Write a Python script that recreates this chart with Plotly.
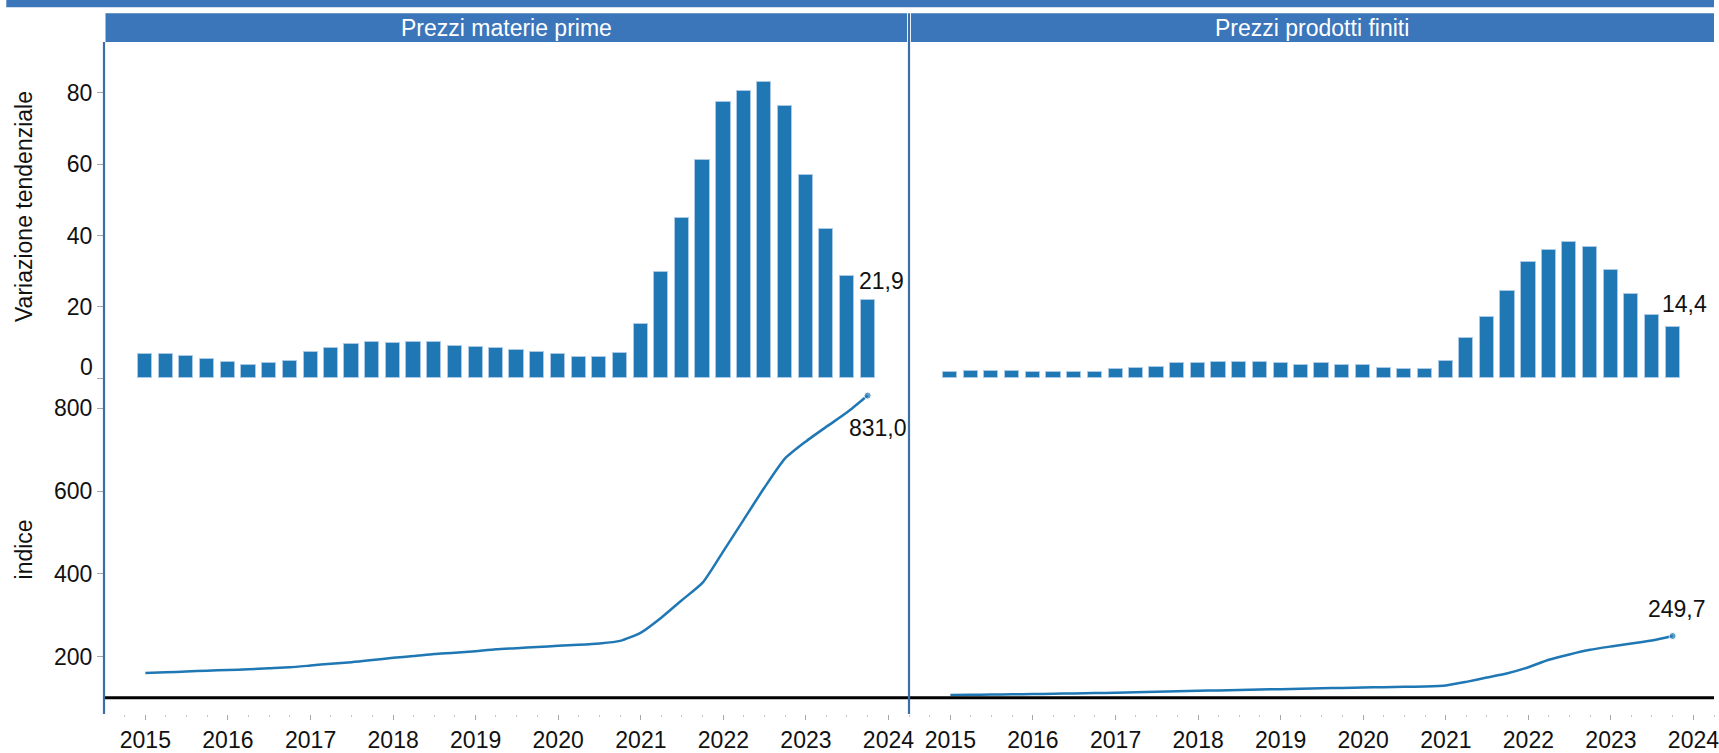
import pandas as pd
import plotly.graph_objects as go

# Quarterly periods, 2015Q1 - 2023Q4 (plotted at quarter start)
trimestri = pd.period_range("2015Q1", "2023Q4", freq="Q").to_timestamp()

pannelli = ["Prezzi materie prime", "Prezzi prodotti finiti"]

# Year-on-year change (%)
var_materie = [6.6, 6.6, 6.1, 5.4, 4.6, 3.7, 4.2, 4.9, 7.4, 8.3, 9.5, 10.2,
               9.8, 10.2, 10.2, 9.0, 8.6, 8.3, 7.8, 7.4, 6.6, 5.8, 5.8, 7.1,
               15.1, 29.8, 44.8, 61.1, 77.4, 80.6, 83.1, 76.2, 57.0, 41.9, 28.5, 21.9]
var_prodotti = [1.7, 2.0, 2.0, 2.0, 1.7, 1.7, 1.7, 1.7, 2.4, 2.9, 3.2, 4.1,
                4.1, 4.5, 4.5, 4.5, 4.1, 3.7, 4.1, 3.7, 3.7, 2.9, 2.4, 2.4,
                4.8, 11.1, 17.1, 24.4, 32.6, 35.8, 38.2, 36.9, 30.2, 23.7, 17.6, 14.4]

# Price index levels
indice_materie = [160.2, 161.9, 163.8, 165.8, 167.4, 169.0, 171.4, 173.8, 178.2, 182.6,
                  186.2, 191.4, 197.0, 201.0, 205.8, 209.0, 213.0, 217.4, 220.2, 223.0,
                  225.8, 228.2, 231.4, 237.8, 257.8, 293.8, 336.2, 378.6, 455.0, 531.0,
                  608.0, 679.0, 720.2, 755.4, 789.8, 831.0]
indice_prodotti = [106.7, 107.3, 107.9, 108.5, 109.1, 109.9, 110.7, 111.5, 112.3, 113.5,
                   114.7, 115.9, 117.1, 118.1, 119.1, 120.1, 121.1, 122.1, 123.1, 124.1,
                   125.1, 125.9, 126.7, 127.5, 129.9, 138.7, 149.1, 159.5, 174.0, 192.3,
                   205.1, 216.3, 224.3, 231.5, 238.7, 249.7]

tick_var = [0, 20, 40, 60, 80]
tick_indice = [200, 400, 600, 800]

BLU = "#1f77b4"
STRIP = "#3b75ba"
LINEA_ASSE = "#3a6ea5"
TESTO = "#111111"
FONT = "Liberation Sans, Arial, sans-serif"
FS = 23

W, H = 1719, 753
ML, MR, MT, MB = 104, 0, 42, 34
PW, PH = W - ML - MR, H - MT - MB


def px(x):
    return (x - ML) / PW


def py(y):
    return (H - MB - y) / PH


def fmt(v):
    return f"{v:.1f}".replace(".", ",")


bar_w = 63 * 24 * 3600 * 1000  # bar width in ms

fig = go.Figure()

for var, xa, ya in [(var_materie, "x3", "y3"), (var_prodotti, "x4", "y4")]:
    fig.add_trace(go.Bar(
        x=trimestri, y=var, xaxis=xa, yaxis=ya, width=bar_w,
        marker=dict(color=BLU, line=dict(color="#a9c9e6", width=1)),
        showlegend=False, hoverinfo="x+y",
    ))

for ind, xa, ya in [(indice_materie, "x", "y"), (indice_prodotti, "x2", "y2")]:
    n = len(ind)
    fig.add_trace(go.Scatter(
        x=trimestri, y=ind, xaxis=xa, yaxis=ya, mode="lines+markers",
        line=dict(color=BLU, width=2.5, shape="spline", smoothing=0.6),
        marker=dict(color=BLU, size=[0] * (n - 1) + [7]),
        showlegend=False,
    ))

x_range = ["2014-07-02", "2024-04-01"]
x_common = dict(
    type="date", range=x_range, tickformat="%Y", dtick="M12", tick0="2015-01-01",
    ticks="outside", ticklen=5, tickwidth=1, tickcolor="#a8a8a8",
    minor=dict(dtick="M3", ticks="outside", ticklen=2, tickcolor="#c4c4c4", showgrid=False),
    showgrid=False, zeroline=False, showline=False, ticklabeloverflow="allow",
    tickfont=dict(family=FONT, size=FS, color=TESTO),
)
y_bottom = dict(range=[61, 873.5], showgrid=False, zeroline=False, showline=False)
y_top = dict(range=[0, 94.3], showgrid=False, zeroline=False, showline=False)

fig.update_layout(
    width=W, height=H,
    margin=dict(l=ML, r=MR, t=MT, b=MB),
    paper_bgcolor="white", plot_bgcolor="white",
    font=dict(family=FONT, size=FS, color=TESTO),
    bargap=0,
    xaxis=dict(domain=[0, 0.5], anchor="y", **x_common),
    xaxis2=dict(domain=[0.5, 1], anchor="y2", **x_common),
    xaxis3=dict(domain=[0, 0.5], anchor="y3", matches="x", visible=False),
    xaxis4=dict(domain=[0.5, 1], anchor="y4", matches="x2", visible=False),
    yaxis=dict(domain=[0, 0.5], anchor="x", tickvals=tick_indice,
               ticks="outside", ticklen=6, tickcolor="#a8a8a8",
               tickfont=dict(family=FONT, size=FS, color=TESTO), **y_bottom),
    yaxis2=dict(domain=[0, 0.5], anchor="x2", showticklabels=False, ticks="", **y_bottom),
    yaxis3=dict(domain=[0.5, 1], anchor="x3", tickvals=tick_var,
                ticktext=[""] + [str(v) for v in tick_var[1:]],
                ticks="outside", ticklen=6, tickcolor="#a8a8a8",
                tickfont=dict(family=FONT, size=FS, color=TESTO), **y_top),
    yaxis4=dict(domain=[0.5, 1], anchor="x4", showticklabels=False, ticks="", **y_top),
)

shapes = [
    # title band at the very top
    dict(type="rect", xref="paper", yref="paper", x0=px(6), x1=1.0, y0=py(7), y1=py(-10),
         fillcolor=STRIP, line=dict(width=0), layer="above"),
    # panel header strips
    dict(type="rect", xref="paper", yref="paper", x0=px(105.5), x1=px(909.5), y0=1.0, y1=py(13),
         fillcolor=STRIP, line=dict(width=0), layer="above"),
    dict(type="rect", xref="paper", yref="paper", x0=px(913.5), x1=1.0, y0=1.0, y1=py(13),
         fillcolor=STRIP, line=dict(width=0), layer="above"),
    # reference line at index 100
    dict(type="line", xref="paper", yref="y", x0=0, x1=1, y0=100, y1=100,
         line=dict(color="black", width=3), layer="above"),
    # panel frame lines
    dict(type="line", xref="paper", yref="paper", x0=0, x1=0, y0=0, y1=1.0,
         line=dict(color=LINEA_ASSE, width=2.2), layer="above"),
    dict(type="line", xref="paper", yref="paper", x0=0.5, x1=0.5, y0=0, y1=py(13),
         line=dict(color=LINEA_ASSE, width=2.2), layer="above"),
]
fig.update_layout(shapes=shapes)

ann = []
for i, titolo in enumerate(pannelli):
    cx = (px(105.5) + px(909.5)) / 2 if i == 0 else (px(913.5) + 1.0) / 2
    ann.append(dict(text=titolo, xref="paper", yref="paper", x=cx, y=(1.0 + py(13)) / 2,
                    xanchor="center", yanchor="middle", showarrow=False,
                    font=dict(family=FONT, size=FS, color="white")))

# axis titles
ann.append(dict(text="Variazione tendenziale", xref="paper", yref="paper",
                x=px(24), y=py(208), textangle=-90, xanchor="center", yanchor="middle",
                showarrow=False, font=dict(family=FONT, size=FS, color=TESTO)))
ann.append(dict(text="indice", xref="paper", yref="paper",
                x=px(24), y=py(553), textangle=-90, xanchor="center", yanchor="middle",
                showarrow=False, font=dict(family=FONT, size=FS, color=TESTO)))
# zero label of the change axis, lifted above its tick
ann.append(dict(text="0", xref="paper", yref="y3", x=0, y=0, xanchor="right",
                yanchor="middle", xshift=-9, yshift=11, showarrow=False,
                font=dict(family=FONT, size=FS, color=TESTO)))

ultimo = trimestri[-1]
ann.append(dict(text=fmt(var_materie[-1]), xref="x3", yref="y3", x=ultimo, y=var_materie[-1],
                xanchor="left", yanchor="middle", xshift=-11, yshift=19, showarrow=False))
ann.append(dict(text=fmt(var_prodotti[-1]), xref="x4", yref="y4", x=ultimo, y=var_prodotti[-1],
                xanchor="left", yanchor="middle", xshift=-13, yshift=23, showarrow=False))
ann.append(dict(text=fmt(indice_materie[-1]), xref="x", yref="y", x=ultimo, y=indice_materie[-1],
                xanchor="center", yanchor="middle", xshift=10, yshift=-32, showarrow=False))
ann.append(dict(text=fmt(indice_prodotti[-1]), xref="x2", yref="y2", x=ultimo, y=indice_prodotti[-1],
                xanchor="center", yanchor="middle", xshift=4, yshift=27, showarrow=False))

fig.update_layout(annotations=ann)

fig.write_html("out.html")
